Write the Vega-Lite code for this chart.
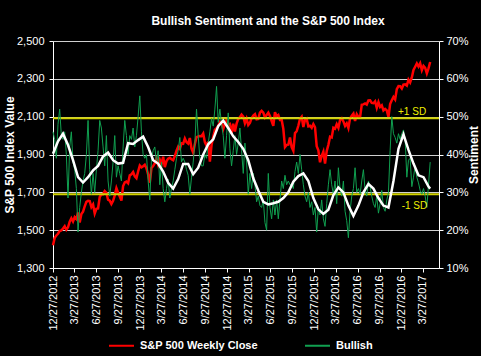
{
  "$schema": "https://vega.github.io/schema/vega-lite/v6.json",
  "autosize": "none",
  "width": 386,
  "height": 227,
  "padding": {"left": 53, "top": 41, "right": 42, "bottom": 88},
  "background": "#000000",
  "config": {
    "view": {"stroke": null},
    "font": "Liberation Sans",
    "axis": {
      "domainColor": "#ffffff",
      "tickColor": "#ffffff",
      "labelColor": "#ffffff",
      "titleColor": "#ffffff",
      "labelFont": "Liberation Sans",
      "titleFont": "Liberation Sans",
      "labelFontSize": 11,
      "titleFontSize": 12,
      "titleFontWeight": "bold",
      "gridColor": "#d0d0d0",
      "gridOpacity": 1,
      "tickSize": 4
    },
    "axisX": {"labelOverlap": false},
    "legend": {
      "labelColor": "#ffffff",
      "labelFont": "Liberation Sans",
      "labelFontSize": 11,
      "labelFontWeight": "bold"
    }
  },
  "title": {
    "text": "Bullish  Sentiment and the S&P 500 Index",
    "color": "#ffffff",
    "font": "Liberation Sans",
    "fontSize": 12,
    "fontWeight": "bold",
    "anchor": "middle",
    "frame": "group",
    "dx": 22,
    "offset": 7
  },
  "datasets": {
    "main": [
      {"d":"2012-12-27","s":1420,"b":46},
      {"d":"2013-01-03","s":1459,"b":44},
      {"d":"2013-01-10","s":1472,"b":39},
      {"d":"2013-01-17","s":1481,"b":48},
      {"d":"2013-01-24","s":1495,"b":52},
      {"d":"2013-01-31","s":1498,"b":45},
      {"d":"2013-02-07","s":1509,"b":44},
      {"d":"2013-02-14","s":1521,"b":46},
      {"d":"2013-02-21","s":1502,"b":40},
      {"d":"2013-02-28","s":1515,"b":28.5},
      {"d":"2013-03-07","s":1545,"b":42},
      {"d":"2013-03-14","s":1563,"b":46},
      {"d":"2013-03-21","s":1546,"b":38},
      {"d":"2013-03-28","s":1569,"b":36},
      {"d":"2013-04-04","s":1559,"b":31},
      {"d":"2013-04-11","s":1593,"b":19.5},
      {"d":"2013-04-18","s":1541,"b":26},
      {"d":"2013-04-25","s":1585,"b":30},
      {"d":"2013-05-02","s":1598,"b":33},
      {"d":"2013-05-09","s":1626,"b":35},
      {"d":"2013-05-16","s":1650,"b":40},
      {"d":"2013-05-23","s":1655,"b":49},
      {"d":"2013-05-30","s":1654,"b":36},
      {"d":"2013-06-06","s":1622,"b":29.5},
      {"d":"2013-06-13","s":1636,"b":35},
      {"d":"2013-06-20","s":1588,"b":30},
      {"d":"2013-06-27","s":1613,"b":36},
      {"d":"2013-07-04","s":1615,"b":41},
      {"d":"2013-07-11","s":1675,"b":49},
      {"d":"2013-07-18","s":1689,"b":47},
      {"d":"2013-07-25","s":1690,"b":42},
      {"d":"2013-08-01","s":1706,"b":37},
      {"d":"2013-08-08","s":1697,"b":45},
      {"d":"2013-08-15","s":1661,"b":33},
      {"d":"2013-08-22","s":1656,"b":29},
      {"d":"2013-08-29","s":1638,"b":33},
      {"d":"2013-09-05","s":1655,"b":38},
      {"d":"2013-09-12","s":1684,"b":45},
      {"d":"2013-09-19","s":1722,"b":34},
      {"d":"2013-09-26","s":1698,"b":37},
      {"d":"2013-10-03","s":1678,"b":35},
      {"d":"2013-10-10","s":1656,"b":33},
      {"d":"2013-10-17","s":1733,"b":42},
      {"d":"2013-10-24","s":1752,"b":49},
      {"d":"2013-10-31","s":1757,"b":45},
      {"d":"2013-11-07","s":1748,"b":40},
      {"d":"2013-11-14","s":1790,"b":45},
      {"d":"2013-11-21","s":1795,"b":44},
      {"d":"2013-11-28","s":1807,"b":47},
      {"d":"2013-12-05","s":1785,"b":42},
      {"d":"2013-12-12","s":1775,"b":45},
      {"d":"2013-12-19","s":1810,"b":50},
      {"d":"2013-12-26","s":1842,"b":55.5},
      {"d":"2014-01-02","s":1832,"b":46},
      {"d":"2014-01-09","s":1838,"b":40},
      {"d":"2014-01-16","s":1846,"b":39},
      {"d":"2014-01-23","s":1828,"b":40},
      {"d":"2014-01-30","s":1794,"b":33},
      {"d":"2014-02-06","s":1751,"b":28},
      {"d":"2014-02-13","s":1829,"b":39},
      {"d":"2014-02-20","s":1839,"b":41},
      {"d":"2014-02-27","s":1854,"b":42},
      {"d":"2014-03-06","s":1877,"b":38},
      {"d":"2014-03-13","s":1846,"b":41},
      {"d":"2014-03-20","s":1872,"b":32},
      {"d":"2014-03-27","s":1849,"b":38},
      {"d":"2014-04-03","s":1888,"b":31},
      {"d":"2014-04-10","s":1833,"b":27.5},
      {"d":"2014-04-17","s":1865,"b":31},
      {"d":"2014-04-24","s":1878,"b":33.5},
      {"d":"2014-05-01","s":1883,"b":28.5},
      {"d":"2014-05-08","s":1875,"b":31},
      {"d":"2014-05-15","s":1870,"b":33},
      {"d":"2014-05-22","s":1892,"b":36},
      {"d":"2014-05-29","s":1920,"b":39},
      {"d":"2014-06-05","s":1941,"b":41},
      {"d":"2014-06-12","s":1930,"b":44.5},
      {"d":"2014-06-19","s":1959,"b":38},
      {"d":"2014-06-26","s":1957,"b":39},
      {"d":"2014-07-03","s":1985,"b":38},
      {"d":"2014-07-10","s":1965,"b":36},
      {"d":"2014-07-17","s":1958,"b":34.5},
      {"d":"2014-07-24","s":1987,"b":29.5},
      {"d":"2014-07-31","s":1931,"b":34},
      {"d":"2014-08-07","s":1910,"b":38},
      {"d":"2014-08-14","s":1956,"b":43},
      {"d":"2014-08-21","s":1992,"b":52},
      {"d":"2014-08-28","s":1996,"b":45},
      {"d":"2014-09-04","s":1998,"b":39},
      {"d":"2014-09-11","s":1997,"b":37},
      {"d":"2014-09-18","s":2011,"b":37},
      {"d":"2014-09-25","s":1965,"b":40},
      {"d":"2014-10-02","s":1946,"b":39},
      {"d":"2014-10-09","s":1968,"b":43},
      {"d":"2014-10-16","s":1862,"b":46},
      {"d":"2014-10-23","s":1950,"b":49.5},
      {"d":"2014-10-30","s":1994,"b":47.5},
      {"d":"2014-11-06","s":2031,"b":52},
      {"d":"2014-11-13","s":2039,"b":58},
      {"d":"2014-11-20","s":2052,"b":48.5},
      {"d":"2014-11-27","s":2073,"b":52},
      {"d":"2014-12-04","s":2071,"b":48},
      {"d":"2014-12-11","s":2035,"b":45},
      {"d":"2014-12-18","s":2061,"b":39},
      {"d":"2014-12-25","s":2081,"b":45},
      {"d":"2015-01-01","s":2059,"b":51},
      {"d":"2015-01-08","s":2062,"b":41.5},
      {"d":"2015-01-15","s":2011,"b":37},
      {"d":"2015-01-22","s":2063,"b":41},
      {"d":"2015-01-29","s":2021,"b":45},
      {"d":"2015-02-05","s":2063,"b":40},
      {"d":"2015-02-12","s":2088,"b":43},
      {"d":"2015-02-19","s":2097,"b":47},
      {"d":"2015-02-26","s":2111,"b":41},
      {"d":"2015-03-05","s":2101,"b":35},
      {"d":"2015-03-12","s":2065,"b":43},
      {"d":"2015-03-19","s":2089,"b":38},
      {"d":"2015-03-26","s":2056,"b":29.5},
      {"d":"2015-04-02","s":2067,"b":35},
      {"d":"2015-04-09","s":2092,"b":31},
      {"d":"2015-04-16","s":2106,"b":35},
      {"d":"2015-04-23","s":2113,"b":32},
      {"d":"2015-04-30","s":2086,"b":27.5},
      {"d":"2015-05-07","s":2088,"b":29},
      {"d":"2015-05-14","s":2121,"b":26.5},
      {"d":"2015-05-21","s":2131,"b":26},
      {"d":"2015-05-28","s":2121,"b":28},
      {"d":"2015-06-04","s":2096,"b":22},
      {"d":"2015-06-11","s":2109,"b":20},
      {"d":"2015-06-18","s":2121,"b":35},
      {"d":"2015-06-25","s":2103,"b":26},
      {"d":"2015-07-02","s":2077,"b":23},
      {"d":"2015-07-09","s":2052,"b":28},
      {"d":"2015-07-16","s":2124,"b":24},
      {"d":"2015-07-23","s":2102,"b":28},
      {"d":"2015-07-30","s":2109,"b":23},
      {"d":"2015-08-06","s":2083,"b":28},
      {"d":"2015-08-13","s":2084,"b":33},
      {"d":"2015-08-20","s":2036,"b":31},
      {"d":"2015-08-27","s":1940,"b":34.5},
      {"d":"2015-09-03","s":1951,"b":32},
      {"d":"2015-09-10","s":1952,"b":33},
      {"d":"2015-09-17","s":1990,"b":32},
      {"d":"2015-09-24","s":1939,"b":32},
      {"d":"2015-10-01","s":1920,"b":31},
      {"d":"2015-10-08","s":2013,"b":35.5},
      {"d":"2015-10-15","s":2023,"b":38},
      {"d":"2015-10-22","s":2052,"b":35},
      {"d":"2015-10-29","s":2089,"b":40},
      {"d":"2015-11-05","s":2100,"b":36},
      {"d":"2015-11-12","s":2045,"b":32},
      {"d":"2015-11-19","s":2082,"b":29},
      {"d":"2015-11-26","s":2089,"b":27.5},
      {"d":"2015-12-03","s":2049,"b":30},
      {"d":"2015-12-10","s":2052,"b":26},
      {"d":"2015-12-17","s":2041,"b":27.5},
      {"d":"2015-12-24","s":2061,"b":24},
      {"d":"2015-12-31","s":2044,"b":26},
      {"d":"2016-01-07","s":1944,"b":19.5},
      {"d":"2016-01-14","s":1922,"b":26},
      {"d":"2016-01-21","s":1859,"b":24},
      {"d":"2016-01-28","s":1893,"b":28},
      {"d":"2016-02-04","s":1915,"b":23},
      {"d":"2016-02-11","s":1852,"b":21},
      {"d":"2016-02-18","s":1918,"b":27},
      {"d":"2016-02-25","s":1951,"b":32},
      {"d":"2016-03-03","s":1994,"b":36},
      {"d":"2016-03-10","s":1990,"b":32},
      {"d":"2016-03-17","s":2041,"b":29.5},
      {"d":"2016-03-24","s":2036,"b":33},
      {"d":"2016-03-31","s":2060,"b":27},
      {"d":"2016-04-07","s":2041,"b":36.5},
      {"d":"2016-04-14","s":2082,"b":31},
      {"d":"2016-04-21","s":2091,"b":29},
      {"d":"2016-04-28","s":2075,"b":33},
      {"d":"2016-05-05","s":2051,"b":25},
      {"d":"2016-05-12","s":2065,"b":22.5},
      {"d":"2016-05-19","s":2040,"b":18},
      {"d":"2016-05-26","s":2091,"b":25},
      {"d":"2016-06-02","s":2105,"b":29},
      {"d":"2016-06-09","s":2116,"b":31},
      {"d":"2016-06-16","s":2077,"b":36.5},
      {"d":"2016-06-23","s":2113,"b":30},
      {"d":"2016-06-30","s":2099,"b":31},
      {"d":"2016-07-07","s":2098,"b":29.5},
      {"d":"2016-07-14","s":2163,"b":33},
      {"d":"2016-07-21","s":2165,"b":36},
      {"d":"2016-07-28","s":2170,"b":30.5},
      {"d":"2016-08-04","s":2164,"b":29},
      {"d":"2016-08-11","s":2186,"b":33},
      {"d":"2016-08-18","s":2187,"b":31.5},
      {"d":"2016-08-25","s":2173,"b":29},
      {"d":"2016-09-01","s":2171,"b":27},
      {"d":"2016-09-08","s":2181,"b":26},
      {"d":"2016-09-15","s":2147,"b":29},
      {"d":"2016-09-22","s":2177,"b":24.5},
      {"d":"2016-09-29","s":2151,"b":27},
      {"d":"2016-10-06","s":2160,"b":30.5},
      {"d":"2016-10-13","s":2133,"b":26},
      {"d":"2016-10-20","s":2141,"b":25},
      {"d":"2016-10-27","s":2133,"b":28},
      {"d":"2016-11-03","s":2098,"b":30},
      {"d":"2016-11-10","s":2167,"b":41},
      {"d":"2016-11-17","s":2187,"b":50},
      {"d":"2016-11-24","s":2204,"b":45.5},
      {"d":"2016-12-01","s":2191,"b":44.5},
      {"d":"2016-12-08","s":2246,"b":43},
      {"d":"2016-12-15","s":2262,"b":45.5},
      {"d":"2016-12-22","s":2261,"b":44},
      {"d":"2016-12-29","s":2249,"b":45.5},
      {"d":"2017-01-05","s":2269,"b":46.5},
      {"d":"2017-01-12","s":2271,"b":44},
      {"d":"2017-01-19","s":2264,"b":34},
      {"d":"2017-01-26","s":2296,"b":38.5},
      {"d":"2017-02-02","s":2281,"b":39},
      {"d":"2017-02-09","s":2307,"b":31.5},
      {"d":"2017-02-16","s":2347,"b":34},
      {"d":"2017-02-23","s":2364,"b":37},
      {"d":"2017-03-02","s":2381,"b":34},
      {"d":"2017-03-09","s":2365,"b":32.5},
      {"d":"2017-03-16","s":2382,"b":30.5},
      {"d":"2017-03-23","s":2346,"b":29.5},
      {"d":"2017-03-30","s":2368,"b":31},
      {"d":"2017-04-06","s":2358,"b":29},
      {"d":"2017-04-13","s":2329,"b":26},
      {"d":"2017-04-20","s":2355,"b":32},
      {"d":"2017-04-27","s":2389,"b":38}
    ],
    "avg": [
      {"d":"2012-12-27","a":40.2},
      {"d":"2013-01-17","a":43.5},
      {"d":"2013-02-07","a":45.5},
      {"d":"2013-02-28","a":42.5},
      {"d":"2013-03-21","a":38.5},
      {"d":"2013-04-11","a":34},
      {"d":"2013-05-02","a":32.6},
      {"d":"2013-05-23","a":34},
      {"d":"2013-06-13","a":35.8},
      {"d":"2013-07-04","a":37},
      {"d":"2013-07-25","a":39.5},
      {"d":"2013-08-15","a":40.5},
      {"d":"2013-09-05","a":38.5},
      {"d":"2013-09-26","a":37.6},
      {"d":"2013-10-17","a":37.8},
      {"d":"2013-11-07","a":43},
      {"d":"2013-11-28","a":42.8},
      {"d":"2013-12-19","a":43.8},
      {"d":"2014-01-09","a":44.7},
      {"d":"2014-01-30","a":42},
      {"d":"2014-02-20","a":38.5},
      {"d":"2014-03-13","a":37.6},
      {"d":"2014-04-03","a":35.5},
      {"d":"2014-04-24","a":32.5},
      {"d":"2014-05-15","a":31},
      {"d":"2014-06-05","a":33.5},
      {"d":"2014-06-26","a":37.5},
      {"d":"2014-07-17","a":37.5},
      {"d":"2014-08-07","a":34.8},
      {"d":"2014-08-28","a":36.5},
      {"d":"2014-09-18","a":40},
      {"d":"2014-10-09","a":42.7},
      {"d":"2014-10-30","a":44},
      {"d":"2014-11-20","a":47.5},
      {"d":"2014-12-11","a":49},
      {"d":"2015-01-01","a":47},
      {"d":"2015-01-22","a":44.8},
      {"d":"2015-02-12","a":43.3},
      {"d":"2015-03-05","a":41.5},
      {"d":"2015-03-26","a":38.5},
      {"d":"2015-04-16","a":33.7},
      {"d":"2015-05-07","a":30.5},
      {"d":"2015-05-28","a":27.5},
      {"d":"2015-06-18","a":26.8},
      {"d":"2015-07-09","a":27.1},
      {"d":"2015-07-30","a":27.5},
      {"d":"2015-08-20","a":28.5},
      {"d":"2015-09-10","a":30},
      {"d":"2015-10-01","a":32.8},
      {"d":"2015-10-22","a":34.3},
      {"d":"2015-11-12","a":35},
      {"d":"2015-12-03","a":33},
      {"d":"2015-12-24","a":28.5},
      {"d":"2016-01-14","a":25.5},
      {"d":"2016-02-04","a":24.3},
      {"d":"2016-02-25","a":25.4},
      {"d":"2016-03-17","a":29.3},
      {"d":"2016-04-07","a":31.3},
      {"d":"2016-04-28","a":30},
      {"d":"2016-05-19","a":26.5},
      {"d":"2016-06-09","a":23.8},
      {"d":"2016-06-30","a":26.5},
      {"d":"2016-07-21","a":30},
      {"d":"2016-08-11","a":32.2},
      {"d":"2016-09-01","a":31},
      {"d":"2016-09-22","a":28.5},
      {"d":"2016-10-13","a":26.5},
      {"d":"2016-11-03","a":26},
      {"d":"2016-11-24","a":33},
      {"d":"2016-12-15","a":41.5},
      {"d":"2017-01-05","a":45.3},
      {"d":"2017-01-26","a":41.2},
      {"d":"2017-02-16","a":37.6},
      {"d":"2017-03-09","a":34.5},
      {"d":"2017-03-30","a":34},
      {"d":"2017-04-20","a":31.5},
      {"d":"2017-04-27","a":31}
    ],
    "sd": [
      {"v":49.6},
      {"v":29.5}
    ],
    "lbl": [
      {"d":"2017-02-10","v":51.3,"t":"+1 SD"},
      {"d":"2017-02-20","v":26.4,"t":"-1 SD"}
    ]
  },
  "layer": [
    {
      "data": {"name": "main"},
      "mark": {"type": "line", "strokeWidth": 2.5},
      "encoding": {
        "x": {
          "field": "d", "type": "temporal", "title": null,
          "scale": {"type": "utc", "domain": [{"year":2012,"month":12,"date":27,"utc":true},{"year":2017,"month":6,"date":3,"utc":true}]},
          "axis": {
            "values": [
              {"year":2012,"month":12,"date":27,"utc":true},
              {"year":2013,"month":3,"date":27,"utc":true},
              {"year":2013,"month":6,"date":27,"utc":true},
              {"year":2013,"month":9,"date":27,"utc":true},
              {"year":2013,"month":12,"date":27,"utc":true},
              {"year":2014,"month":3,"date":27,"utc":true},
              {"year":2014,"month":6,"date":27,"utc":true},
              {"year":2014,"month":9,"date":27,"utc":true},
              {"year":2014,"month":12,"date":27,"utc":true},
              {"year":2015,"month":3,"date":27,"utc":true},
              {"year":2015,"month":6,"date":27,"utc":true},
              {"year":2015,"month":9,"date":27,"utc":true},
              {"year":2015,"month":12,"date":27,"utc":true},
              {"year":2016,"month":3,"date":27,"utc":true},
              {"year":2016,"month":6,"date":27,"utc":true},
              {"year":2016,"month":9,"date":27,"utc":true},
              {"year":2016,"month":12,"date":27,"utc":true},
              {"year":2017,"month":3,"date":27,"utc":true}
            ],
            "tickCount": 40,
            "labelExpr": "utcFormat(datum.value, '%-m/%d/%Y')",
            "labelAngle": 270,
            "labelPadding": 3,
            "grid": false,
            "labelOverlap": false,
            "labelFlush": false,
            "labelBound": false
          }
        },
        "y": {
          "field": "s", "type": "quantitative", "title": "S&P 500 Index Value",
          "scale": {"domain": [1300, 2500], "nice": false, "zero": false},
          "axis": {
            "values": [1300, 1500, 1700, 1900, 2100, 2300, 2500],
            "tickCount": 20,
            "format": ",.0f",
            "grid": true,
            "labelPadding": 5,
            "titlePadding": 0
          }
        },
        "color": {
          "datum": "S&P 500 Weekly Close",
          "scale": {"domain": ["S&P 500 Weekly Close", "Bullish"], "range": ["#ff0000", "#10a050"]},
          "legend": {
            "title": null,
            "orient": "none",
            "direction": "horizontal",
            "legendX": 55,
            "legendY": 291,
            "symbolType": "stroke",
            "symbolSize": 625,
            "symbolStrokeWidth": 2,
            "labelOffset": 5,
            "columnPadding": 43
          }
        }
      }
    },
    {
      "layer": [
        {
          "data": {"name": "sd"},
          "mark": {"type": "rule", "color": "#d2d200", "strokeWidth": 2},
          "encoding": {
            "y": {
              "field": "v", "type": "quantitative", "title": "Sentiment",
              "scale": {"domain": [10, 70], "nice": false, "zero": false},
              "axis": {
                "orient": "right",
                "values": [10, 20, 30, 40, 50, 60, 70],
                "tickCount": 20,
                "labelExpr": "datum.value + '%'",
                "grid": false,
                "labelPadding": 3,
                "titleAngle": 270,
                "titleBaseline": "top",
                "titlePadding": 0
              }
            }
          }
        },
        {
          "data": {"name": "main"},
          "mark": {"type": "line", "strokeWidth": 1},
          "encoding": {
            "x": {"field": "d", "type": "temporal", "title": null},
            "y": {"field": "b", "type": "quantitative", "title": "Sentiment"},
            "color": {"datum": "Bullish"}
          }
        },
        {
          "data": {"name": "avg"},
          "mark": {"type": "line", "color": "#ffffff", "strokeWidth": 2.5},
          "encoding": {
            "x": {"field": "d", "type": "temporal", "title": null},
            "y": {"field": "a", "type": "quantitative", "title": "Sentiment"}
          }
        },
        {
          "data": {"name": "lbl"},
          "mark": {"type": "text", "color": "#f0f000", "fontSize": 10, "font": "Liberation Sans", "align": "center", "baseline": "middle"},
          "encoding": {
            "x": {"field": "d", "type": "temporal", "title": null},
            "y": {"field": "v", "type": "quantitative", "title": "Sentiment"},
            "text": {"field": "t"}
          }
        }
      ]
    }
  ],
  "resolve": {"scale": {"y": "independent"}}
}
